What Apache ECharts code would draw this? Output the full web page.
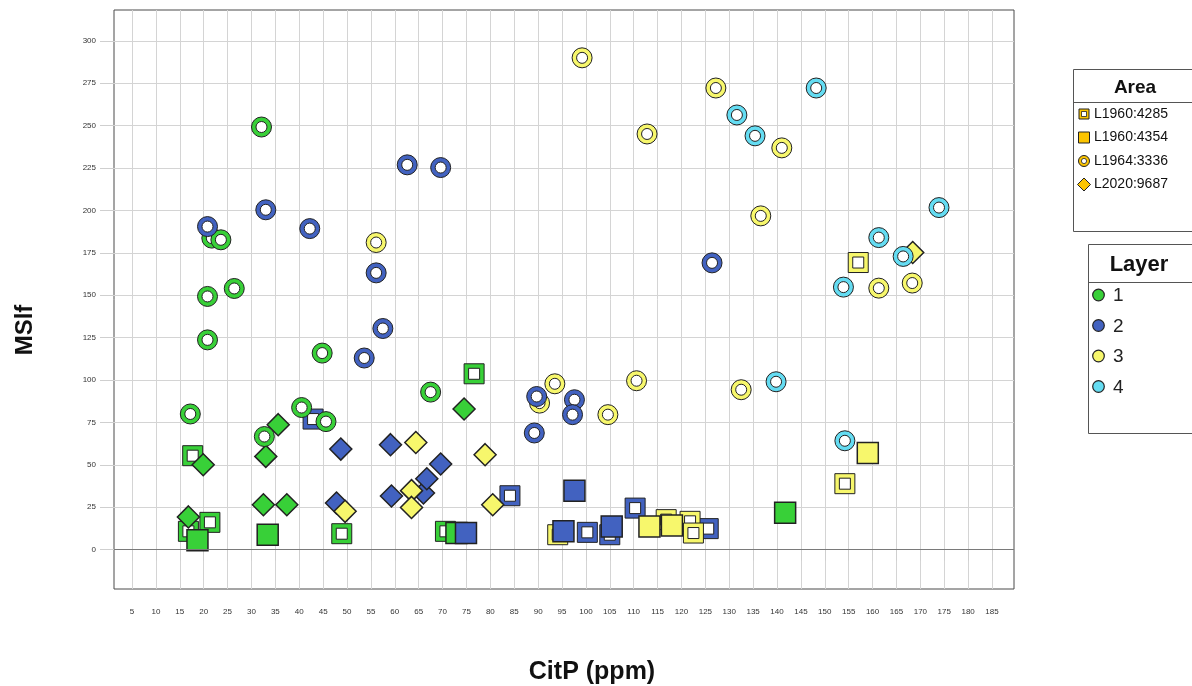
<!DOCTYPE html>
<html>
<head>
<meta charset="utf-8">
<title>MSlf vs CitP</title>
<script src="https://cdn.jsdelivr.net/npm/echarts@6/dist/echarts.min.js"></script>
<style>
  html, body { margin: 0; padding: 0; background: #fff; }
  #chart { width: 1192px; height: 686px; }
</style>
</head>
<body>
<div id="chart"></div>
<script>
// Tick values shown on each axis
const xTicks = [5, 10, 15, 20, 25, 30, 35, 40, 45, 50, 55, 60, 65, 70, 75, 80, 85, 90, 95,
  100, 105, 110, 115, 120, 125, 130, 135, 140, 145, 150, 155, 160, 165, 170, 175, 180, 185];
const yTicks = [0, 25, 50, 75, 100, 125, 150, 175, 200, 225, 250, 275, 300];

// Legend entries
const areaNames = ['L1960:4285', 'L1960:4354', 'L1964:3336', 'L2020:9687'];
const layerNames = ['1', '2', '3', '4'];

// [CitP (ppm), MSlf] per Area and Layer
// L1960:4285 (hollow square)
const hollowSq1 = [[17.7, 55.4], [21.3, 16.1], [16.8, 10.8], [48.9, 9.4], [76.6, 103.7], [70.6, 10.8]];
const hollowSq2 = [[42.9, 77.0], [84.1, 31.8], [100.3, 10.2], [105.0, 8.8], [110.3, 24.5], [125.6, 12.4]];
const hollowSq3 = [[94.1, 8.8], [116.8, 17.7], [121.8, 16.7], [122.5, 9.8], [157.0, 169.3], [154.2, 38.9]];
// L1960:4354 (filled square)
const filledSq1 = [[18.7, 5.5], [33.4, 8.8], [72.9, 9.8], [141.7, 21.8]];
const filledSq2 = [[74.9, 9.8], [95.3, 10.8], [105.4, 13.7], [97.6, 34.8]];
const filledSq3 = [[113.3, 13.7], [118.0, 14.3], [159.0, 57.0]];
// L2020:9687 (diamond)
const diamond1 = [[35.6, 73.7], [33.0, 55.0], [19.9, 50.1], [16.8, 19.3], [32.5, 26.5], [37.4, 26.5], [74.5, 82.9]];
const diamond2 = [[48.7, 59.3], [59.1, 61.9], [66.0, 33.4], [59.3, 31.6], [47.8, 27.5], [69.6, 50.5], [66.7, 41.8]];
const diamond3 = [[49.6, 22.6], [64.4, 63.2], [78.9, 56.0], [63.5, 34.8], [63.5, 24.9], [80.5, 26.5], [168.4, 175.2]];
// L1964:3336 (ring)
const ring1 = [[32.1, 249.2], [21.7, 183.7], [23.6, 182.7], [26.4, 154.0], [20.8, 149.3], [20.8, 123.7],
  [44.8, 115.9], [67.5, 92.9], [40.5, 83.8], [17.2, 80.0], [32.7, 66.7], [45.6, 75.5]];
const ring3 = [[56.1, 181.1], [99.2, 290.0], [127.2, 272.2], [112.8, 245.1], [141.0, 236.9], [136.6, 196.8],
  [132.5, 94.3], [110.6, 99.6], [104.6, 79.6], [93.5, 97.8], [90.3, 86.4], [161.3, 154.2], [168.3, 157.2]];
const ring2 = [[62.6, 226.9], [69.6, 225.3], [33.0, 200.4], [20.8, 190.5], [42.2, 189.3], [56.1, 163.2],
  [57.5, 130.4], [53.6, 113.0], [89.7, 90.3], [97.6, 88.4], [97.2, 79.6], [89.2, 68.8], [126.4, 169.1]];
const ring4 = [[148.2, 272.2], [131.6, 256.3], [135.4, 244.0], [173.9, 201.7], [161.3, 184.0], [166.4, 172.9],
  [153.9, 154.8], [139.8, 99.0], [154.2, 64.2]];

const layerColors = ['#38d038', '#4262c0', '#f7f76c', '#64dcf2'];
const areaColor = '#fbc400';
const edge = '#222';

// Marker drawers (pixel sizes)
const shapes = {
  hollowSq: (x, y, c) => [
    { type: 'rect', shape: { x: x - 10, y: y - 10, width: 20, height: 20 }, style: { fill: c, stroke: edge, lineWidth: 1 } },
    { type: 'rect', shape: { x: x - 5.5, y: y - 5.5, width: 11, height: 11 }, style: { fill: '#fff', stroke: edge, lineWidth: 1 } }
  ],
  filledSq: (x, y, c) => [
    { type: 'rect', shape: { x: x - 10.5, y: y - 10.5, width: 21, height: 21 }, style: { fill: c, stroke: edge, lineWidth: 1.5 } }
  ],
  diamond: (x, y, c) => [
    { type: 'polygon', shape: { points: [[x, y - 11], [x + 11, y], [x, y + 11], [x - 11, y]] }, style: { fill: c, stroke: edge, lineWidth: 1.5 } }
  ],
  ring: (x, y, c) => [
    { type: 'circle', shape: { cx: x, cy: y, r: 10 }, style: { fill: c, stroke: edge, lineWidth: 1 } },
    { type: 'circle', shape: { cx: x, cy: y, r: 5.5 }, style: { fill: '#fff', stroke: edge, lineWidth: 1 } }
  ]
};

function markerSeries(data, shape, color) {
  return {
    type: 'custom',
    data: data,
    encode: { x: 0, y: 1 },
    silent: true,
    renderItem: function (params, api) {
      const p = api.coord([api.value(0), api.value(1)]);
      return { type: 'group', children: shapes[shape](p[0], p[1], color) };
    }
  };
}

// Drawing order: hollow squares, filled squares, diamonds, rings
const series = [
  markerSeries(hollowSq1, 'hollowSq', layerColors[0]),
  markerSeries(hollowSq2, 'hollowSq', layerColors[1]),
  markerSeries(hollowSq3, 'hollowSq', layerColors[2]),
  markerSeries(filledSq1, 'filledSq', layerColors[0]),
  markerSeries(filledSq2, 'filledSq', layerColors[1]),
  markerSeries(filledSq3, 'filledSq', layerColors[2]),
  markerSeries(diamond1, 'diamond', layerColors[0]),
  markerSeries(diamond2, 'diamond', layerColors[1]),
  markerSeries(diamond3, 'diamond', layerColors[2]),
  markerSeries(ring1, 'ring', layerColors[0]),
  markerSeries(ring3, 'ring', layerColors[2]),
  markerSeries(ring2, 'ring', layerColors[1]),
  markerSeries(ring4, 'ring', layerColors[3]),
  {
    // reference line at MSlf = 0
    type: 'scatter', data: [], silent: true, z: 1,
    markLine: {
      silent: true, symbol: 'none', animation: false,
      label: { show: false },
      lineStyle: { color: '#7a7a7a', width: 1, type: 'solid' },
      data: [{ yAxis: 0 }]
    }
  }
];

// Legend graphics
const legendFont = '"Liberation Sans", Arial, sans-serif';
const areaIcons = [
  (x, y) => [
    { type: 'rect', shape: { x: x - 5, y: y - 5, width: 10, height: 10 }, style: { fill: areaColor, stroke: edge, lineWidth: 1 } },
    { type: 'rect', shape: { x: x - 2.5, y: y - 2.5, width: 5, height: 5 }, style: { fill: '#fff', stroke: edge, lineWidth: 0.8 } }
  ],
  (x, y) => [
    { type: 'rect', shape: { x: x - 5.5, y: y - 5.5, width: 11, height: 11 }, style: { fill: areaColor, stroke: edge, lineWidth: 1 } }
  ],
  (x, y) => [
    { type: 'circle', shape: { cx: x, cy: y, r: 5.5 }, style: { fill: areaColor, stroke: edge, lineWidth: 1 } },
    { type: 'circle', shape: { cx: x, cy: y, r: 2.6 }, style: { fill: '#fff', stroke: edge, lineWidth: 0.8 } }
  ],
  (x, y) => [
    { type: 'polygon', shape: { points: [[x, y - 6.5], [x + 6.5, y], [x, y + 6.5], [x - 6.5, y]] }, style: { fill: areaColor, stroke: edge, lineWidth: 1 } }
  ]
];

const graphics = [];
// Area box
graphics.push({ type: 'rect', shape: { x: 1073.5, y: 69.5, width: 130, height: 162 }, style: { fill: '#fff', stroke: '#555', lineWidth: 1 } });
graphics.push({ type: 'text', x: 1135, y: 88, style: { text: 'Area', font: 'bold 19px ' + legendFont, fill: '#111', align: 'center', verticalAlign: 'middle' } });
graphics.push({ type: 'line', shape: { x1: 1074, y1: 102.5, x2: 1192, y2: 102.5 }, style: { stroke: '#555', lineWidth: 1 } });
areaNames.forEach((name, i) => {
  const cy = 114 + i * 23.5;
  areaIcons[i](1084, cy).forEach(el => graphics.push(el));
  graphics.push({ type: 'text', x: 1094, y: cy, style: { text: name, font: '14px ' + legendFont, fill: '#111', align: 'left', verticalAlign: 'middle' } });
});
// Layer box
graphics.push({ type: 'rect', shape: { x: 1088.5, y: 244.5, width: 120, height: 189 }, style: { fill: '#fff', stroke: '#555', lineWidth: 1 } });
graphics.push({ type: 'text', x: 1139, y: 265, style: { text: 'Layer', font: 'bold 22px ' + legendFont, fill: '#111', align: 'center', verticalAlign: 'middle' } });
graphics.push({ type: 'line', shape: { x1: 1089, y1: 282.5, x2: 1192, y2: 282.5 }, style: { stroke: '#555', lineWidth: 1 } });
layerNames.forEach((name, i) => {
  const cy = 295 + i * 30.5;
  graphics.push({ type: 'circle', shape: { cx: 1098.5, cy: cy, r: 5.8 }, style: { fill: layerColors[i], stroke: edge, lineWidth: 1.2 } });
  graphics.push({ type: 'text', x: 1113, y: cy + 1, style: { text: name, font: '19px ' + legendFont, fill: '#222', align: 'left', verticalAlign: 'middle' } });
});
// Axis titles
graphics.push({ type: 'text', x: 25, y: 330, rotation: Math.PI / 2,
  style: { text: 'MSlf', font: 'bold 24px ' + legendFont, fill: '#111', align: 'center', verticalAlign: 'middle' } });
graphics.push({ type: 'text', x: 592, y: 672,
  style: { text: 'CitP (ppm)', font: 'bold 25px ' + legendFont, fill: '#111', align: 'center', verticalAlign: 'middle' } });

const chart = echarts.init(document.getElementById('chart'), null, { renderer: 'canvas' });
chart.setOption({
  animation: false,
  backgroundColor: '#fff',
  grid: { left: 114, right: 178, top: 10, bottom: 97, show: true, borderColor: '#4a4a4a', borderWidth: 1, backgroundColor: 'transparent' },
  xAxis: {
    type: 'value', min: 1.23, max: 189.6,
    axisLine: { show: false },
    axisTick: { show: true, customValues: xTicks, length: 11, lineStyle: { color: '#cfcfcf' } },
    axisLabel: { customValues: xTicks, fontSize: 8, color: '#333', margin: 19, fontFamily: legendFont },
    splitLine: { show: true, lineStyle: { color: '#d4d4d4', width: 1 } }
  },
  yAxis: {
    type: 'value', min: -23.2, max: 318.2,
    axisLine: { show: false },
    axisTick: { show: true, customValues: yTicks, length: 14, lineStyle: { color: '#cfcfcf' } },
    axisLabel: { customValues: yTicks, fontSize: 8, color: '#333', margin: 18, fontFamily: legendFont },
    splitLine: { show: true, lineStyle: { color: '#d4d4d4', width: 1 } }
  },
  graphic: graphics,
  series: series
});
</script>
</body>
</html>
